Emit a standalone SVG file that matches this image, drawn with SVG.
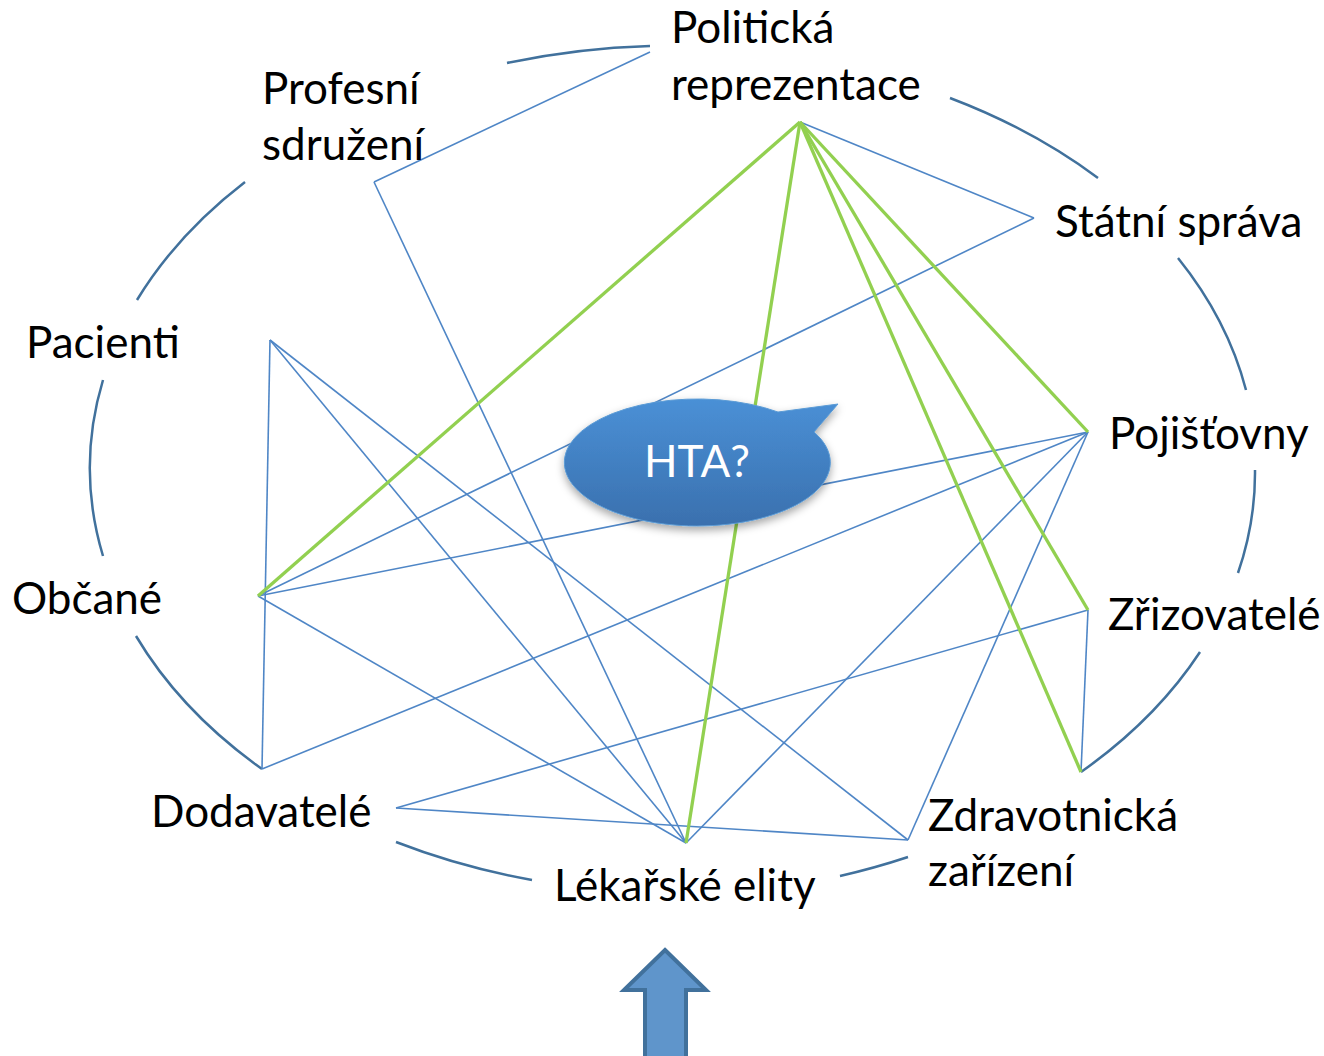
<svg xmlns="http://www.w3.org/2000/svg" width="1324" height="1056" viewBox="0 0 1324 1056">
  <defs>
    <style>
      .lbl { font-family: Lato, "Liberation Sans", sans-serif; font-size: 44px; fill: #000; }
      .hta { font-family: Lato, "Liberation Sans", sans-serif; font-size: 44px; fill: #fff; text-anchor: middle; }
      .ring { fill: none; stroke: #41719C; stroke-width: 2.5; }
      .blue { fill: none; stroke: #4F86C6; stroke-width: 1.6; }
      .green { fill: none; stroke: #92D050; stroke-width: 3.3; }
    </style>
    <linearGradient id="bubbleGrad" x1="0" y1="0" x2="0" y2="1">
      <stop offset="0" stop-color="#4A90D6"/>
      <stop offset="1" stop-color="#3A70AE"/>
    </linearGradient>
    <filter id="shadow" x="-20%" y="-20%" width="140%" height="160%">
      <feDropShadow dx="0" dy="4" stdDeviation="4" flood-color="#000" flood-opacity="0.35"/>
    </filter>
  </defs>
  <rect width="1324" height="1056" fill="#fff"/>

  <g id="ring">
    <path class="ring" d="M137,300 A584,418 0 0 1 245,182"/>
    <path class="ring" d="M507,63 A584,418 0 0 1 650,46"/>
    <path class="ring" d="M950,98 A584,418 0 0 1 1098,178"/>
    <path class="ring" d="M1178,258 A584,418 0 0 1 1246,390"/>
    <path class="ring" d="M1255,470 A584,418 0 0 1 1238,573"/>
    <path class="ring" d="M1200,652 A584,418 0 0 1 1081,772"/>
    <path class="ring" d="M908,857 A584,418 0 0 1 840,876"/>
    <path class="ring" d="M532,880 A584,418 0 0 1 396,842"/>
    <path class="ring" d="M262,769 A584,418 0 0 1 136,636"/>
    <path class="ring" d="M103,556 A584,418 0 0 1 103,380"/>
  </g>

  <g id="connectors">
    <line class="blue" x1="650" y1="52" x2="374" y2="182"/>
    <line class="blue" x1="374" y1="182" x2="686" y2="843"/>
    <line class="blue" x1="800" y1="122" x2="1034" y2="218"/>
    <line class="blue" x1="1034" y1="218" x2="258" y2="596"/>
    <line class="blue" x1="270" y1="340" x2="262" y2="769"/>
    <line class="blue" x1="270" y1="340" x2="686" y2="843"/>
    <line class="blue" x1="270" y1="340" x2="908" y2="840"/>
    <line class="blue" x1="258" y1="596" x2="1088" y2="432"/>
    <line class="blue" x1="258" y1="596" x2="686" y2="843"/>
    <line class="blue" x1="262" y1="769" x2="1088" y2="432"/>
    <line class="blue" x1="396" y1="808" x2="1088" y2="610"/>
    <line class="blue" x1="396" y1="808" x2="908" y2="840"/>
    <line class="blue" x1="1088" y1="432" x2="686" y2="843"/>
    <line class="blue" x1="1088" y1="432" x2="908" y2="840"/>
    <line class="blue" x1="1088" y1="610" x2="1081" y2="772"/>
    <line class="green" x1="800" y1="122" x2="258" y2="596"/>
    <line class="green" x1="800" y1="122" x2="686" y2="843"/>
    <line class="green" x1="800" y1="122" x2="1088" y2="432"/>
    <line class="green" x1="800" y1="122" x2="1088" y2="610"/>
    <line class="green" x1="800" y1="122" x2="1081" y2="772"/>
  </g>

  <g id="node-politicka"><text class="lbl" x="671" y="43">Politická</text><text class="lbl" x="671" y="100">reprezentace</text></g>
  <g id="node-profesni"><text class="lbl" x="262" y="104">Profesní</text><text class="lbl" x="262" y="160">sdružení</text></g>
  <g id="node-statni"><text class="lbl" x="1055" y="237">Státní správa</text></g>
  <g id="node-pacienti"><text class="lbl" x="26" y="358">Pacienti</text></g>
  <g id="node-pojistovny"><text class="lbl" x="1109" y="449">Pojišťovny</text></g>
  <g id="node-obcane"><text class="lbl" x="12" y="614">Občané</text></g>
  <g id="node-zrizovatele"><text class="lbl" x="1108" y="630">Zřizovatelé</text></g>
  <g id="node-dodavatele"><text class="lbl" x="151" y="827">Dodavatelé</text></g>
  <g id="node-lekarske"><text class="lbl" x="554" y="901">Lékařské elity</text></g>
  <g id="node-zdravotnicka"><text class="lbl" x="928" y="831">Zdravotnická</text><text class="lbl" x="928" y="886">zařízení</text></g>

  <g id="node-hta">
    <path d="M778,412 L838,404 L814,432 A133,63.5 0 1 1 778,412 Z" fill="url(#bubbleGrad)" stroke="#5B9BD5" stroke-width="1" filter="url(#shadow)"/>
    <text class="hta" x="697" y="477">HTA?</text>
  </g>

  <g id="node-arrow">
    <path d="M665,950 L706,990 L686,990 L686,1062 L645,1062 L645,990 L624,990 Z" fill="#5F95CB" stroke="#41719C" stroke-width="4" stroke-linejoin="miter"/>
  </g>
</svg>
